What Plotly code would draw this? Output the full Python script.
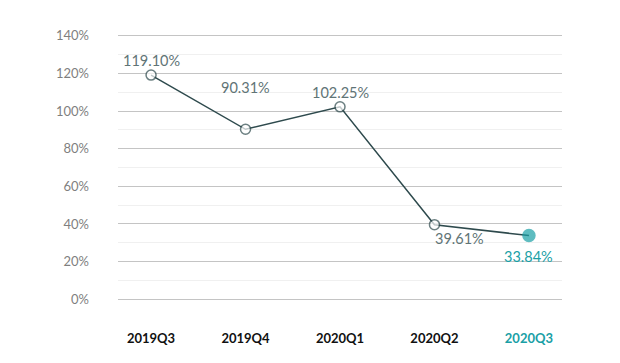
import plotly.graph_objects as go

quarters = ["2019Q3", "2019Q4", "2020Q1", "2020Q2", "2020Q3"]
values = [119.10, 90.31, 102.25, 39.61, 33.84]
y_ticks = [0, 20, 40, 60, 80, 100, 120, 140]

line_col = "#2e4a4d"
teal = "#1aa0a6"
label_col = "#5f7476"

fig = go.Figure()
fig.add_trace(go.Scatter(
    x=quarters, y=values, mode="lines+markers",
    line=dict(color=line_col, width=1.5),
    marker=dict(size=[10, 10, 10, 10, 12],
                color=["white"] * 4 + [teal],
                line=dict(color=[line_col] * 4 + [teal], width=1.5)),
    hoverinfo="skip", showlegend=False,
))

offsets = [(0, -15), (0, -42), (0, -14), (25, 14), (0, 21)]
for i, (q, v) in enumerate(zip(quarters, values)):
    ax, ay = offsets[i]
    fig.add_annotation(
        x=q, y=v, text=f"{v:.2f}%", showarrow=True, arrowcolor="rgba(0,0,0,0)",
        ax=ax, ay=ay, xref="x", yref="y",
        font=dict(family="Lato", size=14.5, color=teal if i == 4 else label_col),
    )

ticktext = [f"<b>{q}</b>" if i < 4 else f"<b><span style='color:{teal}'>{q}</span></b>"
            for i, q in enumerate(quarters)]

fig.update_layout(
    width=620, height=363,
    margin=dict(l=110, r=66, t=24, b=68),
    plot_bgcolor="white", paper_bgcolor="white",
    xaxis=dict(range=[-0.35, 4.35], tickvals=quarters, ticktext=ticktext,
               showgrid=False, zeroline=False, showline=False, automargin=False,
               ticks="", ticklabelstandoff=26,
               tickfont=dict(family="Lato", size=13, color="#111111")),
    yaxis=dict(range=[-2, 142], tickvals=y_ticks,
               ticktext=[f"{t}%" for t in y_ticks], automargin=False,
               showgrid=True, gridcolor="#c4c4c4", gridwidth=1,
               zeroline=False, showline=False, ticks="",
               ticklabelstandoff=28,
               minor=dict(dtick=10, showgrid=True, gridcolor="#f0f0f0", gridwidth=1),
               tickfont=dict(family="Lato", size=13, color="#7f7f7f")),
)

fig.write_html("out.html")
